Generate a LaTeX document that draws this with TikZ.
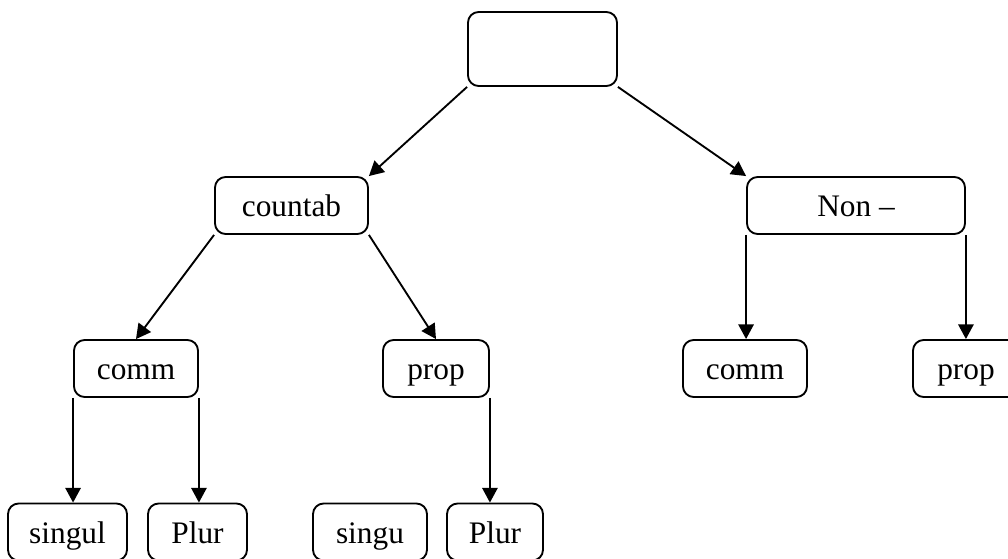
\documentclass[tikz,border=0pt]{standalone}
\usepackage{fontspec}
\setmainfont{Liberation Serif}
\usetikzlibrary{arrows.meta}
\begin{document}
\begin{tikzpicture}[x=0.75pt,y=-0.75pt,
  box/.style={draw, line width=1.4pt, rounded corners=8pt, inner sep=0pt,
    minimum height=42.75pt, text height=17pt, text depth=0pt,
    font=\fontsize{23.5}{28}\selectfont},
  arr/.style={line width=1.4pt, -{Triangle[length=11pt,width=11.5pt]}}]
\useasboundingbox (0,0) rectangle (1008,559);
\clip (0,0) rectangle (1008,559);
\node[box, minimum width=111.75pt, minimum height=55.5pt] (root) at (542.5,49) {};
\node[box, minimum width=114.75pt] (countab) at (291.5,205.5) {countab};
\node[box, minimum width=163.5pt] (non) at (856,205.5) {Non –};
\node[box, minimum width=93pt] (commL) at (136,368.5) {comm};
\node[box, minimum width=79.5pt] (propM) at (436,368.5) {prop};
\node[box, minimum width=93pt] (commR) at (745,368.5) {comm};
\node[box, minimum width=79.5pt] (propR) at (966,368.5) {prop};
\node[box, minimum width=89.25pt] (singul) at (67.5,532) {singul};
\node[box, minimum width=74.25pt] (plurA) at (197.5,532) {Plur};
\node[box, minimum width=85.5pt] (singu) at (370,532) {singu};
\node[box, minimum width=72pt] (plurB) at (495,532) {Plur};
\draw[arr] (root.south west) -- (countab.north east);
\draw[arr] (root.south east) -- (non.north west);
\draw[arr] (countab.south west) -- (commL.north);
\draw[arr] (countab.south east) -- (propM.north);
\draw[arr] (commL.south west) -- (commL.south west |- singul.north);
\draw[arr] (commL.south east) -- (commL.south east |- plurA.north);
\draw[arr] (propM.south east) -- (propM.south east |- plurB.north);
\draw[arr] (non.south west) -- (non.south west |- commR.north);
\draw[arr] (non.south east) -- (non.south east |- propR.north);
\end{tikzpicture}
\end{document}
